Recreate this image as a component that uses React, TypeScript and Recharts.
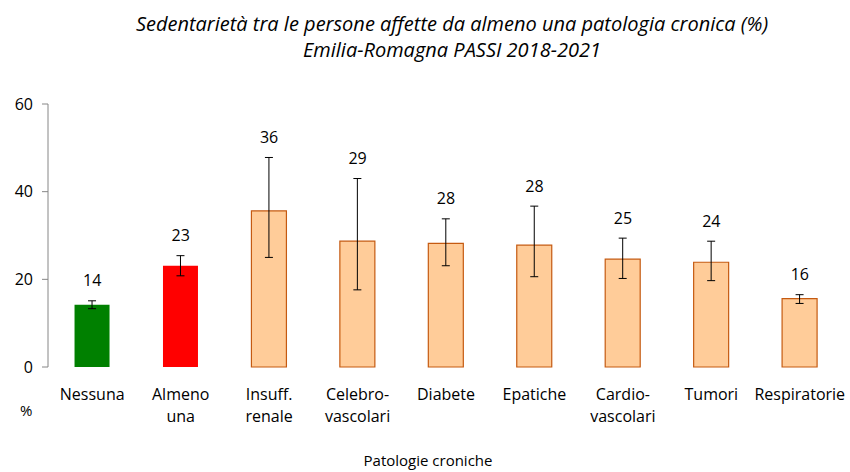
import { ComposedChart, Bar, Cell, ErrorBar, Scatter, LabelList, XAxis, YAxis } from "recharts";

const categories = ["Nessuna", "Almeno\nuna", "Insuff.\nrenale", "Celebro-\nvascolari", "Diabete", "Epatiche", "Cardio-\nvascolari", "Tumori", "Respiratorie"];
const values = [14.2, 23.1, 35.6, 28.7, 28.2, 27.8, 24.6, 23.9, 15.6];
const lower = [13.3, 20.8, 25.0, 17.6, 23.1, 20.6, 20.2, 19.7, 14.5];
const upper = [15.1, 25.4, 47.8, 43.0, 33.8, 36.7, 29.4, 28.7, 16.5];
const fills = ["#008000", "#FF0000", "#FFCC99", "#FFCC99", "#FFCC99", "#FFCC99", "#FFCC99", "#FFCC99", "#FFCC99"];
const yTicks = [0, 20, 40, 60];

const FONT = "'Open Sans', sans-serif";

const data = categories.map((name, i) => ({
  name,
  value: values[i],
  err: [values[i] - lower[i], upper[i] - values[i]],
  high: upper[i],
  label: Math.round(values[i]),
}));

const CategoryTick = ({ x, y, payload }: any) => {
  const lines = String(payload.value).split("\n");
  return (
    <text x={x} y={y} textAnchor="middle" fill="#000" fontSize={16} fontFamily={FONT}>
      {lines.map((l, i) => (
        <tspan key={i} x={x} dy={i === 0 ? 25 : 22}>{l}</tspan>
      ))}
    </text>
  );
};

export default function App() {
  return (
    <div style={{ position: "absolute", left: 0, top: 0, width: 850, height: 472, background: "#fff", fontFamily: FONT }}>
      <div style={{ position: "absolute", left: 0, width: 904, top: 11, textAlign: "center", fontStyle: "italic", fontSize: 20, lineHeight: "26px", color: "#000" }}>
        Sedentarietà tra le persone affette da almeno una patologia cronica (%)<br />
        Emilia-Romagna PASSI 2018-2021
      </div>
      <ComposedChart width={850} height={472} data={data} margin={{ top: 104, right: 6, bottom: 45, left: 0 }} barCategoryGap="30%">
        <XAxis dataKey="name" height={60} axisLine={false} tickLine={false} tick={<CategoryTick />} interval={0} />
        <YAxis
          domain={[0, 60]}
          ticks={yTicks}
          width={48}
          tickSize={6}
          tickMargin={9}
          axisLine={{ stroke: "#868686" }}
          tickLine={{ stroke: "#868686" }}
          tick={{ fill: "#000", fontSize: 16, fontFamily: FONT }}
        />
        <Bar dataKey="value" isAnimationActive={false}>
          {data.map((d, i) => (
            <Cell key={d.name} fill={fills[i]} stroke={i < 2 ? "none" : "#C55A11"} strokeWidth={1.2} />
          ))}
          <ErrorBar dataKey="err" width={4} stroke="#000" strokeWidth={1} direction="y" />
        </Bar>
        <Scatter dataKey="high" isAnimationActive={false} shape={() => <g />}>
          <LabelList dataKey="label" position="top" offset={10} fill="#000" fontSize={16} fontFamily={FONT} />
        </Scatter>
      </ComposedChart>
      <div style={{ position: "absolute", left: 20, top: 400, fontSize: 15 }}>%</div>
      <div style={{ position: "absolute", left: 0, width: 856, top: 450, lineHeight: "20px", textAlign: "center", fontSize: 15 }}>Patologie croniche</div>
    </div>
  );
}
